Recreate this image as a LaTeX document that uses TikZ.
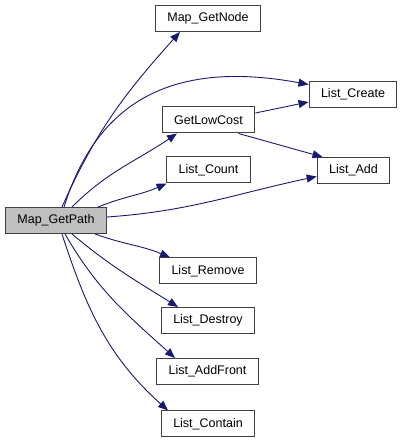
\documentclass[tikz,border=0pt]{standalone}
\usepackage{fontspec}
\setmainfont{Liberation Sans}
\usetikzlibrary{arrows.meta}
\definecolor{CallBlue}{HTML}{191970}
\definecolor{RootGray}{HTML}{BFBFBF}
\definecolor{BoxEdge}{HTML}{404040}
\tikzset{
  fnbox/.style={draw=BoxEdge, line width=1pt, fill=white, inner xsep=12pt, inner ysep=0pt, minimum height=26pt, font=\fontsize{12.5}{15}\selectfont},
  rootbox/.style={fnbox, fill=RootGray},
  callarrow/.style={-{Triangle[length=10pt, width=8pt]}, line width=0.9pt, draw=CallBlue},
}
\begin{document}
\begin{tikzpicture}[x=1pt, y=1pt]
    \useasboundingbox (0,0) rectangle (403,443);
    \node[rootbox] (path) at (56, 222.5) {Map\_GetPath};
    \node[fnbox] (mgn) at (208, 424.5) {Map\_GetNode};
    \node[fnbox] (glc) at (208.5, 323) {GetLowCost};
    \node[fnbox] (lcreate) at (353, 348.5) {List\_Create};
    \node[fnbox] (ladd) at (353.5, 272.5) {List\_Add};
    \node[fnbox] (lcount) at (208.5, 273) {List\_Count};
    \node[fnbox] (lrem) at (208, 172) {List\_Remove};
    \node[fnbox] (ldes) at (208, 122.5) {List\_Destroy};
    \node[fnbox] (laf) at (207.5, 71.5) {List\_AddFront};
    \node[fnbox] (lcon) at (208, 19) {List\_Contain};
    % calls made by Map_GetPath
    \draw[callarrow] ([xshift=6pt]path.north) to[out=66, in=228] ([xshift=-28pt]mgn.south);
    \draw[callarrow] ([xshift=8pt]path.north) .. controls (95,335) and (165,385) .. ([yshift=10pt]lcreate.west);
    \draw[callarrow] ([xshift=16pt]path.north) to[out=45, in=214] ([xshift=-31.5pt]glc.south);
    \draw[callarrow] ([xshift=-9pt]path.north east) to[out=22, in=204] ([xshift=-42pt]lcount.south);
    \draw[callarrow] ([yshift=3.5pt]path.east) to[out=4, in=192] ([yshift=-6pt]ladd.west);
    \draw[callarrow] ([xshift=-12pt]path.south east) to[out=-20, in=157] ([xshift=-38pt]lrem.north);
    \draw[callarrow] ([xshift=16pt]path.south) to[out=-40, in=148] ([xshift=-30pt]ldes.north);
    \draw[callarrow] ([xshift=9pt]path.south) to[out=-60, in=138] ([xshift=-32.5pt]laf.north);
    \draw[callarrow] ([xshift=6pt]path.south) to[out=-72, in=138] ([xshift=-40pt]lcon.north);
    % calls made by GetLowCost
    \draw[callarrow] ([yshift=7pt]glc.east) -- ([yshift=-7.5pt]lcreate.west);
    \draw[callarrow] ([xshift=30pt]glc.south) -- ([xshift=-31pt]ladd.north);
\end{tikzpicture}
\end{document}
